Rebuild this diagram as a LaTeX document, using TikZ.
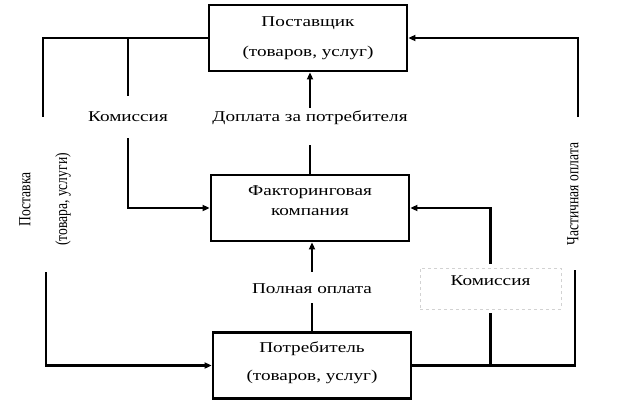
\documentclass[tikz,border=0pt]{standalone}
\usepackage{fontspec}
\setmainfont[FakeStretch=1.28]{Liberation Serif}
\newfontfamily\sidefont[FakeStretch=0.8]{Liberation Serif}
\usepackage{tikz}
\usetikzlibrary{arrows.meta, positioning, calc}

\begin{document}
\begin{tikzpicture}[x=1pt, y=-1pt,
    party/.style={rectangle, draw, line width=2.8pt, minimum width=198pt, minimum height=66pt, align=center, font=\fontsize{15}{18}\selectfont},
    lbl/.style={inner sep=0pt, anchor=base, font=\fontsize{15}{18}\selectfont},
    side/.style={rotate=90, inner sep=0pt, font=\sidefont\fontsize{17}{19}\selectfont},
    link/.style={line width=2.8pt},
    arrow/.style={link, -{Triangle[length=7pt, width=6pt]}}
]
\useasboundingbox (0,0) rectangle (624,405);

% Parties
\node[party] (SUP) at (308,38) {Поставщик\\[12pt](товаров, услуг)};
\node[party, text depth=15pt] (FAC) at (310,208) {Факторинговая\\[2pt]компания};
\node[party, text depth=9.5pt] (CON) at (312,365.5) {Потребитель\\[10pt](товаров, услуг)};

% Flow labels
\node[lbl, text height=25pt, text depth=17pt] (KOM1) at (128,121) {Комиссия};
\node[lbl, text height=13pt, text depth=24pt] (DOP) at (310,121) {Доплата за потребителя};
\node[lbl, text height=21pt, text depth=10pt] (FULL) at (312,293) {Полная оплата};
\node[lbl, text height=17pt, text depth=24pt, minimum width=141pt, outer sep=4pt,
      draw=gray!35, line width=1pt, dash pattern=on 3pt off 3pt] (KOM2) at (490.5,285) {Комиссия};

% Side labels
\node[side] (DEL) at (25,199.5) {Поставка};
\node[side] (DELG) at (63,199.5) {(товара, услуги)};
\node[side] (PART) at (573,194) {Частичная оплата};

% Free ends
\coordinate (LT) at (43,117);
\coordinate (LB) at (46,272);
\coordinate (RT) at (578,117);
\coordinate (RB) at (575,270);

% Left side
\draw[link] (SUP.west) -| (LT);
\draw[link] (SUP.west -| KOM1.north) -- (KOM1.north);
\draw[arrow] (KOM1.south) |- (FAC.west);
\draw[arrow] (LB) |- (CON.west);

% Centre
\draw[link] (FAC.north) -- (FAC.north |- DOP.south);
\draw[arrow] (DOP.north) -- (DOP.north |- SUP.south);
\draw[link] (CON.north) -- (FULL.south);
\draw[arrow] (FULL.north) -- (FULL.north |- FAC.south);

% Right side
\draw[arrow] (RT) |- (SUP.east);
\draw[link] (CON.east) -| (RB);
\draw[link] (KOM2.south) -- (KOM2.south |- CON.east);
\draw[arrow] (KOM2.north) |- (FAC.east);

\end{tikzpicture}
\end{document}
